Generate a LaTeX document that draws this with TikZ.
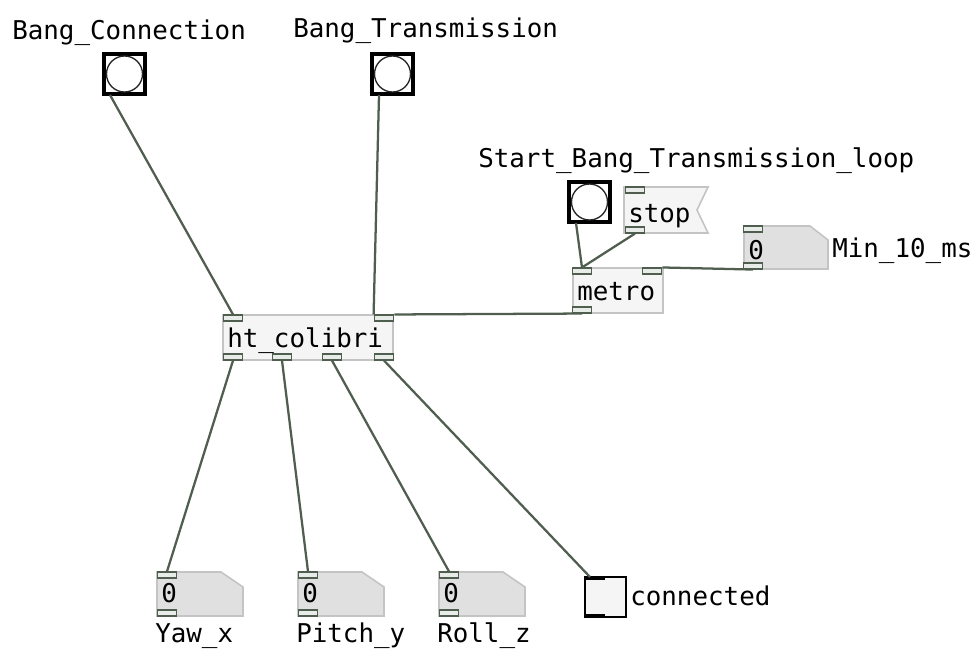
\documentclass[tikz,border=0pt]{standalone}
\usepackage{fontspec}
\newfontfamily\pdmono{DejaVu Sans Mono}
\definecolor{pdline}{RGB}{80,94,80}
\definecolor{portfill}{RGB}{232,236,232}
\definecolor{objborder}{RGB}{196,196,196}
\definecolor{objfill}{RGB}{245,245,245}
\definecolor{numfill}{RGB}{224,224,224}
\tikzset{
  pdtext/.style={font=\pdmono\fontsize{19.4pt}{23pt}\selectfont, inner sep=0pt, anchor=base west},
  objbox/.style={draw=objborder, fill=objfill, line width=1.2pt},
  numbox/.style={draw=objborder, fill=numfill, line width=1.2pt},
  pdport/.style={draw=pdline, fill=portfill, line width=1.1pt, rectangle, inner sep=0pt, minimum width=14.5pt, minimum height=4.2pt},
  conn/.style={draw=pdline, line width=1.7pt},
  bangbox/.style={draw=black, fill=white, line width=2.5pt},
  bangcirc/.style={draw=black!85, line width=1pt},
}
\begin{document}
\begin{tikzpicture}[x=0.75pt,y=-0.75pt]
\useasboundingbox (0,0) rectangle (973,650);
\fill[white] (0,0) rectangle (973,650);

% --- bangs
\draw[bangbox] (104,54) rectangle (145,94);
\draw[bangcirc] (124.5,74) circle [radius=13.5pt];
\coordinate (b1out) at (110,95);
\node[pdtext] (lb1) at (12,39) {Bang\_Connection};

\draw[bangbox] (372,54) rectangle (413,94);
\draw[bangcirc] (392.5,74) circle [radius=13.5pt];
\coordinate (b2out) at (379,95);
\node[pdtext] (lb2) at (293,37) {Bang\_Transmission};

\draw[bangbox] (569,182) rectangle (610,222);
\draw[bangcirc] (589.5,202) circle [radius=13.5pt];
\coordinate (b3out) at (576,223);
\node[pdtext] (lb3) at (478,167) {Start\_Bang\_Transmission\_loop};

% --- stop message
\draw[objbox] (624,187) -- (708,187) -- (697,210) -- (708,233) -- (624,233) -- cycle;
\node[pdtext] (tstop) at (628,222) {stop};
\node[pdport] (stopin) at (635,190) {};
\node[pdport] (stopout) at (635,230) {};

% --- Min number box
\draw[numbox] (744,226) -- (810,226) -- (828,240) -- (828,269) -- (744,269) -- cycle;
\node[pdtext] (tmin) at (748,259) {0};
\node[pdport] (minin) at (753,229) {};
\node[pdport] (minout) at (753,266) {};
\node[pdtext] (lmin) at (832,257) {Min\_10\_ms};

% --- metro
\draw[objbox] (573,268) rectangle (663,313);
\node[pdtext] (tmetro) at (577,300) {metro};
\node[pdport] (metinL) at (582,271) {};
\node[pdport] (metinR) at (652,271) {};
\node[pdport] (metout) at (582,310) {};

% --- ht_colibri
\draw[objbox] (223,315) rectangle (393,360);
\node[pdtext] (tht) at (227,347) {ht\_colibri};
\node[pdport] (htinL) at (233,318) {};
\node[pdport] (htinR) at (384,318) {};
\node[pdport] (htout1) at (233,357) {};
\node[pdport] (htout2) at (282,357) {};
\node[pdport] (htout3) at (332,357) {};
\node[pdport] (htout4) at (384,357) {};

% --- bottom number boxes
\draw[numbox] (157,572) -- (221,572) -- (243,587) -- (243,616) -- (157,616) -- cycle;
\node[pdtext] (tyaw) at (161,602) {0};
\node[pdport] (yawin) at (167,575) {};
\node[pdport] (yawout) at (167,613) {};
\node[pdtext] (lyaw) at (155,642) {Yaw\_x};

\draw[numbox] (298,572) -- (362,572) -- (384,587) -- (384,616) -- (298,616) -- cycle;
\node[pdtext] (tpitch) at (302,602) {0};
\node[pdport] (pitchin) at (308,575) {};
\node[pdport] (pitchout) at (308,613) {};
\node[pdtext] (lpitch) at (296,642) {Pitch\_y};

\draw[numbox] (439,572) -- (503,572) -- (525,587) -- (525,616) -- (439,616) -- cycle;
\node[pdtext] (troll) at (443,602) {0};
\node[pdport] (rollin) at (449,575) {};
\node[pdport] (rollout) at (449,613) {};
\node[pdtext] (lroll) at (437,642) {Roll\_z};

% --- toggle
\draw[draw=black, fill=objfill, line width=1.6pt] (585,577) rectangle (626,617);
\draw[black, line width=3pt] (585,578) -- (605,578);
\draw[black, line width=3pt] (585,616) -- (605,616);
\coordinate (togin) at (590,577);
\node[pdtext] (ltog) at (630,605) {connected};

% --- connections
\draw[conn] (b1out) -- (htinL.north);
\draw[conn] (b2out) -- (htinR.north west);
\draw[conn] (metout.south) -- (htinR.north east);
\draw[conn] (b3out) -- (metinL.north);
\draw[conn] (stopout.south) -- (metinL.north);
\draw[conn] (minout.south) -- (metinR.north east);
\draw[conn] (htout1.south) -- (yawin.north);
\draw[conn] (htout2.south) -- (pitchin.north);
\draw[conn] (htout3.south) -- (rollin.north);
\draw[conn] (htout4.south) -- (togin);
\end{tikzpicture}
\end{document}
